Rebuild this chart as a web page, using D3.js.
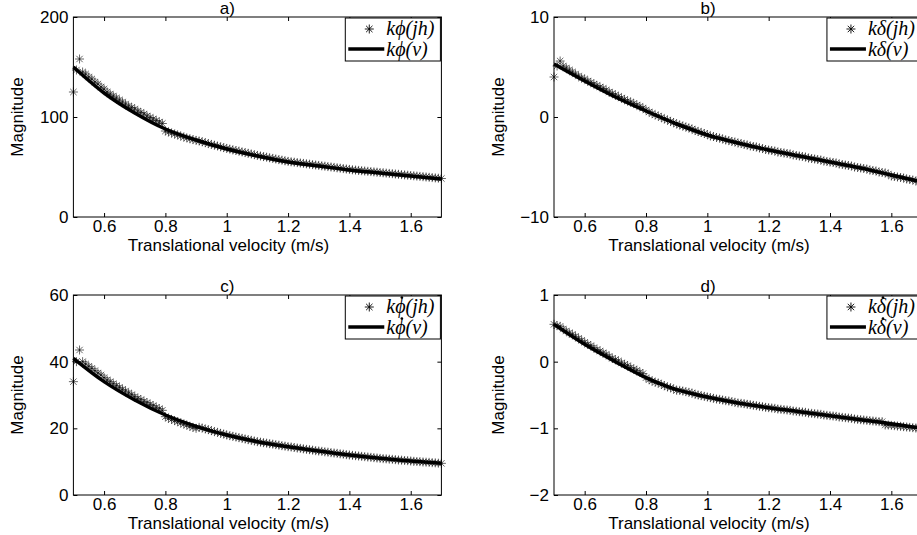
<!DOCTYPE html>
<html>
<head>
<meta charset="utf-8">
<script src="https://cdn.jsdelivr.net/npm/d3@7"></script>
<style>
  body { margin: 0; background: #fff; }
  text { font-family: "Liberation Sans", Arial, sans-serif; fill: #000; }
  .math { font-family: "Liberation Serif", "DejaVu Serif", serif; }
</style>
</head>
<body>
<svg id="chart"></svg>
<script>
// velocity grid of the samples: 0.50 .. 1.70 in steps of 0.01
const vStart = 0.5, vStep = 0.01;
const xTicks = [0.6, 0.8, 1, 1.2, 1.4, 1.6];

// fitted curves, sampled at 0.1 steps
const lineVelocity = [0.5, 0.6, 0.7, 0.8, 0.9, 1.0, 1.1, 1.2, 1.3, 1.4, 1.5, 1.6, 1.7];
const kPhiV      = [150, 124, 104, 88, 77, 68, 61, 55, 51, 47, 44, 41, 38];
const kDeltaV    = [5.3, 3.6, 2.0, 0.6, -0.7, -1.8, -2.6, -3.3, -3.9, -4.5, -5.1, -5.8, -6.5];
const kPhiDotV   = [41, 34, 28.5, 24, 20.6, 18, 16, 14.5, 13.2, 12, 11, 10.2, 9.5];
const kDeltaDotV = [0.56, 0.26, 0.0, -0.24, -0.42, -0.53, -0.62, -0.69, -0.75, -0.81, -0.87, -0.93, -1.0];

// sampled values (stars)
const kPhiJh = [
  125, 147, 158, 145, 143, 140, 138, 135, 133, 130, 128,
  125, 123, 121, 119, 117, 115, 113, 111, 109.5, 108,
  106, 104.5, 103, 101, 99.5, 98, 96.5, 95, 93.5, 86,
  85, 84, 83, 82, 81, 80, 79, 78.2, 77.4, 76.6,
  76, 75.2, 74.3, 73.4, 72.6, 71.8, 71, 70.2, 69.4, 68.6,
  67.9, 67.2, 66.5, 65.8, 65.1, 64.4, 63.7, 63, 62.3, 61.6,
  61, 60.4, 59.8, 59.2, 58.6, 58, 57.4, 56.8, 56.2, 55.6,
  55.2, 54.8, 54.4, 54, 53.6, 53.2, 52.8, 52.4, 52, 51.6,
  51.2, 50.8, 50.4, 50, 49.6, 49.2, 48.8, 48.4, 48, 47.6,
  47.2, 46.9, 46.6, 46.3, 46, 45.7, 45.4, 45.1, 44.8, 44.5,
  44.2, 43.9, 43.6, 43.3, 43, 42.7, 42.4, 42.1, 41.8, 41.5,
  41.2, 40.9, 40.6, 40.3, 40, 39.7, 39.4, 39.1, 38.8, 38.5
];
const kDeltaJh = [
  4.0, 5.1, 5.6, 5.1, 4.9, 4.7, 4.5, 4.3, 4.1, 3.9, 3.8,
  3.6, 3.45, 3.3, 3.15, 3.0, 2.85, 2.7, 2.5, 2.35, 2.2,
  2.05, 1.9, 1.75, 1.6, 1.5, 1.35, 1.2, 1.05, 0.9, 0.7,
  0.5, 0.35, 0.2, 0.1, -0.05, -0.2, -0.3, -0.45, -0.55, -0.7,
  -0.8, -0.9, -1.0, -1.1, -1.2, -1.35, -1.45, -1.55, -1.65, -1.75,
  -1.9, -1.95, -2.05, -2.1, -2.2, -2.3, -2.35, -2.45, -2.5, -2.6,
  -2.65, -2.75, -2.8, -2.9, -2.95, -3.0, -3.1, -3.15, -3.25, -3.3,
  -3.35, -3.4, -3.5, -3.55, -3.6, -3.65, -3.7, -3.8, -3.85, -3.9,
  -3.95, -4.0, -4.1, -4.15, -4.2, -4.25, -4.3, -4.4, -4.45, -4.5,
  -4.55, -4.6, -4.7, -4.75, -4.8, -4.85, -4.9, -5.0, -5.05, -5.1,
  -5.15, -5.2, -5.3, -5.35, -5.4, -5.5, -5.55, -5.6, -5.7, -5.9,
  -5.95, -6.0, -6.05, -6.1, -6.2, -6.25, -6.3, -6.4, -6.45, -6.55
];
const kPhiDotJh = [
  34, 40, 43.5, 40, 39.3, 38.6, 38, 37.3, 36.6, 36, 35.2,
  34.5, 34, 33.4, 32.8, 32.3, 31.7, 31.2, 30.6, 30.1, 29.5,
  29, 28.6, 28.1, 27.7, 27.2, 26.8, 26.3, 25.9, 25.4, 23.5,
  23, 22.7, 22.3, 22, 21.6, 21.3, 21, 20.6, 20.3, 20,
  20.3, 20.1, 19.8, 19.6, 19.3, 19.0, 18.8, 18.5, 18.3, 18.0,
  17.8, 17.6, 17.4, 17.2, 17.0, 16.8, 16.6, 16.4, 16.2, 16.0,
  15.85, 15.7, 15.55, 15.4, 15.25, 15.1, 14.95, 14.8, 14.65, 14.5,
  14.4, 14.25, 14.1, 14.0, 13.85, 13.7, 13.6, 13.45, 13.3, 13.2,
  13.1, 12.95, 12.85, 12.7, 12.6, 12.5, 12.35, 12.25, 12.1, 12.0,
  11.9, 11.8, 11.7, 11.6, 11.5, 11.4, 11.3, 11.2, 11.1, 11.0,
  10.9, 10.85, 10.75, 10.7, 10.6, 10.5, 10.45, 10.35, 10.3, 10.2,
  10.1, 10.05, 10.0, 9.9, 9.85, 9.8, 9.7, 9.65, 9.55, 9.5
];
const kDeltaDotJh = [
  0.56, 0.54, 0.53, 0.49, 0.46, 0.43, 0.41, 0.38, 0.35, 0.32, 0.29,
  0.26, 0.24, 0.21, 0.18, 0.16, 0.13, 0.11, 0.08, 0.05, 0.03,
  0.01, -0.02, -0.04, -0.06, -0.09, -0.11, -0.13, -0.16, -0.18, -0.24,
  -0.27, -0.29, -0.31, -0.32, -0.34, -0.36, -0.38, -0.39, -0.41, -0.43,
  -0.43, -0.44, -0.45, -0.46, -0.47, -0.49, -0.50, -0.51, -0.52, -0.53,
  -0.54, -0.55, -0.56, -0.565, -0.575, -0.585, -0.59, -0.60, -0.61, -0.62,
  -0.625, -0.63, -0.64, -0.645, -0.655, -0.66, -0.67, -0.675, -0.685, -0.69,
  -0.695, -0.70, -0.71, -0.715, -0.72, -0.725, -0.73, -0.74, -0.745, -0.75,
  -0.755, -0.76, -0.77, -0.775, -0.78, -0.785, -0.79, -0.80, -0.805, -0.81,
  -0.815, -0.82, -0.83, -0.835, -0.84, -0.845, -0.85, -0.86, -0.865, -0.87,
  -0.875, -0.88, -0.885, -0.89, -0.895, -0.90, -0.90, -0.95, -0.95, -0.955,
  -0.96, -0.965, -0.97, -0.975, -0.98, -0.985, -0.99, -0.995, -1.0, -1.005
];

const panels = [
  { title: 'a)', left: 73.4, top: 17,  stars: kPhiJh,      line: kPhiV,      yDomain: [0, 200],  yTicks: [0, 100, 200],    sym: 'ϕ', dot: false },
  { title: 'b)', left: 554,  top: 17,  stars: kDeltaJh,    line: kDeltaV,    yDomain: [-10, 10], yTicks: [-10, 0, 10],     sym: 'δ', dot: false },
  { title: 'c)', left: 73.4, top: 295, stars: kPhiDotJh,   line: kPhiDotV,   yDomain: [0, 60],   yTicks: [0, 20, 40, 60],  sym: 'ϕ', dot: true },
  { title: 'd)', left: 554,  top: 295, stars: kDeltaDotJh, line: kDeltaDotV, yDomain: [-2, 1],   yTicks: [-2, -1, 0, 1],   sym: 'δ', dot: true }
];

const W = 917, H = 535;
const plotW = 368, plotH = 200;
const fontSize = 17;

const svg = d3.select('#chart').attr('width', W).attr('height', H);

// MATLAB style '*' marker: plus and cross together
const starPath = 'M-4.5,0H4.5M0,-4.5V4.5M-3.2,-3.2L3.2,3.2M-3.2,3.2L3.2,-3.2';

// k<sym>(arg) as one plain text line, the letters set in italic
function mathLabel(sel, sym, arg) {
  sel.attr('font-style', 'italic').text('k' + sym + '(' + arg + ')');
}

// dot over the greek letter (char index 1)
function addDot(parent, textSel) {
  const ext = textSel.node().getExtentOfChar(1);
  parent.append('circle')
    .attr('cx', ext.x + ext.width / 2 + 1.5)
    .attr('cy', ext.y + 2.5)
    .attr('r', 1.3)
    .attr('fill', '#000');
}

panels.forEach(p => {
  const g = svg.append('g');
  const x = d3.scaleLinear().domain([0.5, 1.7]).range([p.left, p.left + plotW]);
  const y = d3.scaleLinear().domain(p.yDomain).range([p.top + plotH, p.top]);

  // box
  g.append('rect')
    .attr('x', p.left).attr('y', p.top)
    .attr('width', plotW).attr('height', plotH)
    .attr('fill', 'none').attr('stroke', '#000').attr('stroke-width', 1);

  const bottom = g.append('g').attr('transform', `translate(0,${p.top + plotH})`)
    .call(d3.axisBottom(x).tickValues(xTicks).tickSize(-4).tickSizeOuter(0).tickPadding(3).tickFormat(d3.format('~g')));
  const topAx = g.append('g').attr('transform', `translate(0,${p.top})`)
    .call(d3.axisTop(x).tickValues(xTicks).tickSize(-4).tickSizeOuter(0).tickFormat(''));
  const leftAx = g.append('g').attr('transform', `translate(${p.left},0)`)
    .call(d3.axisLeft(y).tickValues(p.yTicks).tickSize(-4).tickSizeOuter(0).tickPadding(5).tickFormat(d3.format('d')));
  const rightAx = g.append('g').attr('transform', `translate(${p.left + plotW},0)`)
    .call(d3.axisRight(y).tickValues(p.yTicks).tickSize(-4).tickSizeOuter(0).tickFormat(''));

  [bottom, topAx, leftAx, rightAx].forEach(a => {
    a.select('.domain').remove();
    a.selectAll('line').attr('stroke', '#000');
    a.selectAll('text').attr('font-size', fontSize).attr('font-family', '"Liberation Sans", Arial, sans-serif');
  });

  // labels
  g.append('text')
    .attr('x', p.left + 154).attr('y', p.top - 3)
    .attr('text-anchor', 'middle').attr('font-size', fontSize)
    .text(p.title);
  g.append('text')
    .attr('x', p.left + 155).attr('y', p.top + plotH + 34)
    .attr('text-anchor', 'middle').attr('font-size', fontSize)
    .text('Translational velocity (m/s)');
  g.append('text')
    .attr('transform', `translate(${p.left - 50},${p.top + plotH / 2}) rotate(-90)`)
    .attr('text-anchor', 'middle').attr('font-size', fontSize)
    .text('Magnitude');

  // sampled values
  g.selectAll('path.star')
    .data(p.stars)
    .join('path')
    .attr('class', 'star')
    .attr('transform', (d, i) => `translate(${x(vStart + i * vStep)},${y(d)})`)
    .attr('d', starPath)
    .attr('fill', 'none')
    .attr('stroke', '#000')
    .attr('stroke-width', 0.6);

  // fitted curve
  const lineGen = d3.line()
    .x((d, i) => x(lineVelocity[i]))
    .y(d => y(d))
    .curve(d3.curveMonotoneX);
  g.append('path')
    .datum(p.line)
    .attr('d', lineGen)
    .attr('fill', 'none')
    .attr('stroke', '#000')
    .attr('stroke-width', 3.5);

  // legend
  const lg = g.append('g');
  const boxRight = p.left + plotW;
  const boxH = 43;
  const t1 = lg.append('text').attr('class', 'math').attr('font-size', 20).attr('y', p.top + 18);
  mathLabel(t1, p.sym, 'jh');
  const t2 = lg.append('text').attr('class', 'math').attr('font-size', 20).attr('y', p.top + 39);
  mathLabel(t2, p.sym, 'v');
  const tw = Math.max(t1.node().getComputedTextLength(), t2.node().getComputedTextLength());
  const boxW = tw + 47;
  const boxL = boxRight - boxW - 1;
  t1.attr('x', boxL + 41);
  t2.attr('x', boxL + 41);
  if (p.dot) { addDot(lg, t1); addDot(lg, t2); }
  lg.insert('rect', 'text')
    .attr('x', boxL).attr('y', p.top + 1)
    .attr('width', boxW).attr('height', boxH)
    .attr('fill', '#fff').attr('stroke', '#000').attr('stroke-width', 1);
  lg.append('path')
    .attr('transform', `translate(${boxL + 24},${p.top + 12})`)
    .attr('d', starPath)
    .attr('fill', 'none').attr('stroke', '#000').attr('stroke-width', 0.9);
  lg.append('line')
    .attr('x1', boxL + 3).attr('x2', boxL + 39)
    .attr('y1', p.top + 32).attr('y2', p.top + 32)
    .attr('stroke', '#000').attr('stroke-width', 3.5);
});
</script>
</body>
</html>
